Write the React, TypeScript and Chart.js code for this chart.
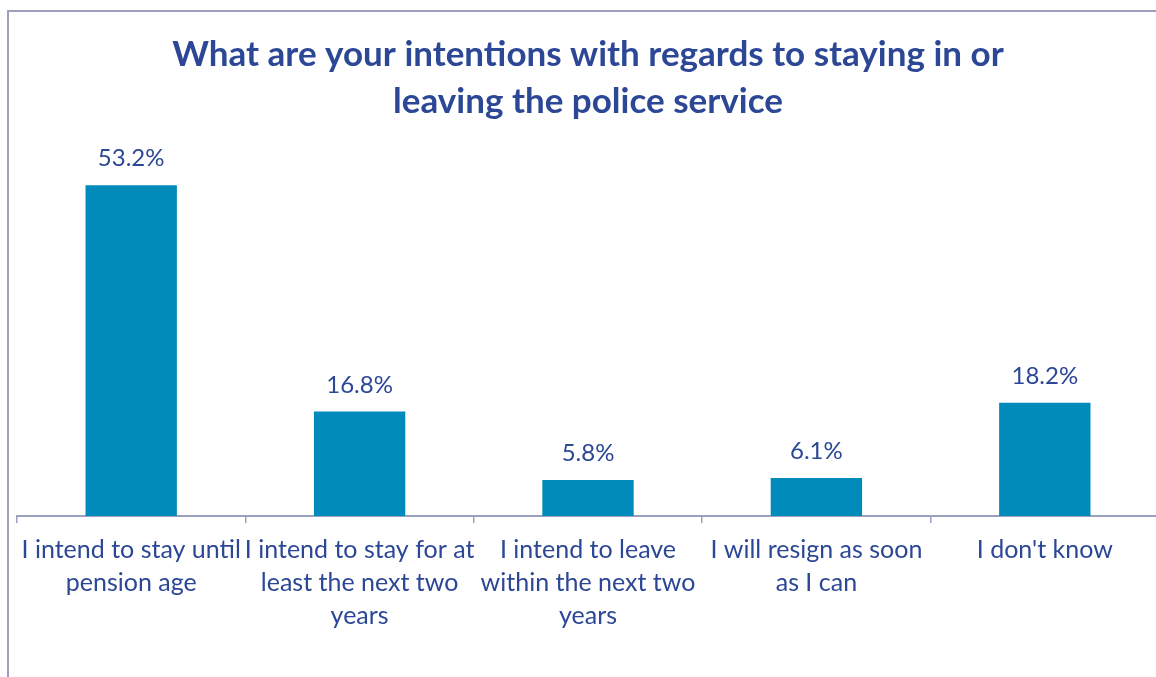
import React, { useEffect, useRef } from "react";
import { Chart, registerables } from "chart.js";

Chart.register(...registerables);

const TITLE_LINES = [
  "What are your intentions with regards to staying in or",
  "leaving the police service",
];

const CATEGORIES: string[][] = [
  ["I intend to stay until", "pension age"],
  ["I intend to stay for at", "least the next two", "years"],
  ["I intend to leave", "within the next two", "years"],
  ["I will resign as soon", "as I can"],
  ["I don't know"],
];

const VALUES = [53.2, 16.8, 5.8, 6.1, 18.2];

const Y_MAX = 60;

const TEXT_COLOR = "#2b4795";
const BAR_COLOR = "#008bba";
const AXIS_COLOR = "#9c9fbf";
const FONT = "Lato, 'Open Sans', sans-serif";

const valueLabels = {
  id: "valueLabels",
  afterDatasetsDraw(chart: any) {
    const ctx = chart.ctx;
    const meta = chart.getDatasetMeta(0);
    ctx.save();
    ctx.font = `24px ${FONT}`;
    ctx.fillStyle = TEXT_COLOR;
    ctx.textAlign = "center";
    ctx.textBaseline = "alphabetic";
    meta.data.forEach((bar: any, i: number) => {
      ctx.fillText(`${VALUES[i].toFixed(1)}%`, bar.x, bar.y - 19);
    });
    ctx.restore();
  },
};

export default function App() {
  const ref = useRef<HTMLCanvasElement | null>(null);

  useEffect(() => {
    if (!ref.current) return;
    const chart = new Chart(ref.current, {
      type: "bar",
      data: {
        labels: CATEGORIES,
        datasets: [
          {
            data: VALUES,
            backgroundColor: BAR_COLOR,
            borderWidth: 0,
            barPercentage: 0.4,
            categoryPercentage: 1,
          },
        ],
      },
      options: {
        animation: false,
        responsive: false,
        maintainAspectRatio: false,
        layout: { padding: { left: 10, right: 0, top: 0, bottom: 0 } },
        plugins: {
          legend: { display: false },
          tooltip: { enabled: false },
          title: {
            display: true,
            text: TITLE_LINES,
            color: TEXT_COLOR,
            font: { family: FONT, size: 35, weight: "bold", lineHeight: "47px" as any },
            padding: { top: 21, bottom: 18 },
          },
        },
        scales: {
          x: {
            grid: {
              display: true,
              drawOnChartArea: false,
              drawTicks: true,
              tickLength: 7,
              color: AXIS_COLOR,
              lineWidth: 1.5,
              offset: true,
            },
            border: { display: true, color: AXIS_COLOR, width: 2 },
            ticks: {
              color: TEXT_COLOR,
              font: { family: FONT, size: 25, lineHeight: "33px" as any },
              padding: 10,
              maxRotation: 0,
              minRotation: 0,
              autoSkip: false,
            },
            afterFit: (scale: any) => {
              scale.height = 161;
            },
          },
          y: {
            display: false,
            min: 0,
            max: Y_MAX,
          },
        },
      },
      plugins: [valueLabels],
    });
    return () => chart.destroy();
  }, []);

  return (
    <div
      style={{
        position: "absolute",
        left: 0,
        top: 0,
        width: 1156,
        height: 677,
        overflow: "hidden",
        background: "#ffffff",
      }}
    >
      <div
        style={{
          position: "absolute",
          left: 7,
          top: 10,
          width: 1170,
          height: 700,
          borderLeft: `2px solid ${AXIS_COLOR}`,
          borderTop: `2px solid ${AXIS_COLOR}`,
          boxSizing: "border-box",
        }}
      />
      <canvas
        ref={ref}
        width={1152}
        height={667}
        style={{ position: "absolute", left: 7, top: 10, width: 1152, height: 667 }}
      />
    </div>
  );
}
